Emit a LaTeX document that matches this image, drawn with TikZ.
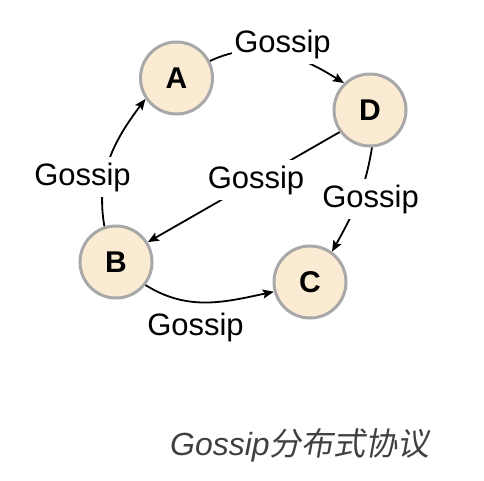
\documentclass[tikz,border=0pt]{standalone}
\usepackage{fontspec}
\setmainfont{Liberation Sans}
\newfontfamily\cjk[FakeSlant=0.18]{Noto Sans CJK SC}
\usetikzlibrary{arrows.meta}
\definecolor{peer}{HTML}{FBEBD2}
\definecolor{peerline}{HTML}{A8A8A8}
\definecolor{captiongray}{HTML}{404040}
\tikzset{
  peernode/.style={circle, fill=peer, draw=peerline, line width=3pt, minimum size=72pt, inner sep=0pt, font=\fontsize{30}{36}\selectfont\bfseries},
  gossipedge/.style={line width=1.8pt, -{Stealth[length=11pt,width=9pt,inset=2pt]}},
  lbl/.style={fill=white, inner xsep=2pt, inner ysep=6pt, anchor=base, font=\fontsize{31}{36}\selectfont},
  lblplain/.style={inner sep=0pt, anchor=base, font=\fontsize{31}{36}\selectfont},
}
\begin{document}
\begin{tikzpicture}[x=1pt,y=-1pt]
\useasboundingbox (0,0) rectangle (484,480);
\node[peernode] (A) at (176.5,78) {A};
\node[peernode] (D) at (370,110) {D};
\node[peernode] (B) at (116,262) {B};
\node[peernode] (C) at (310,282) {C};
% connectors
\draw[gossipedge] (A.27) to[out=25,in=148] (D.134);
\draw[gossipedge] (B.108) to[out=100,in=233] (A.214);
\draw[gossipedge] (D.216) -- (B.32);
\draw[gossipedge] (D.-87) to[out=-99,in=61] (C.54);
\draw[gossipedge] (B.-38) to[out=-32,in=192] (C.195);
% labels
\node[lbl] (lAD) at (282.5,52) {Gossip};
\node[lbl] (lBA) at (82.5,185) {Gossip};
\node[lbl] (lDB) at (256,188) {Gossip};
\node[lbl] (lDC) at (370.5,207) {Gossip};
\node[lblplain] (lBC) at (195.5,335) {Gossip};
% caption
\node[anchor=base, text=captiongray, font=\fontsize{32}{38}\selectfont] (cap) at (300,455) {\itshape Gossip\cjk 分布式协议};
\end{tikzpicture}
\end{document}
